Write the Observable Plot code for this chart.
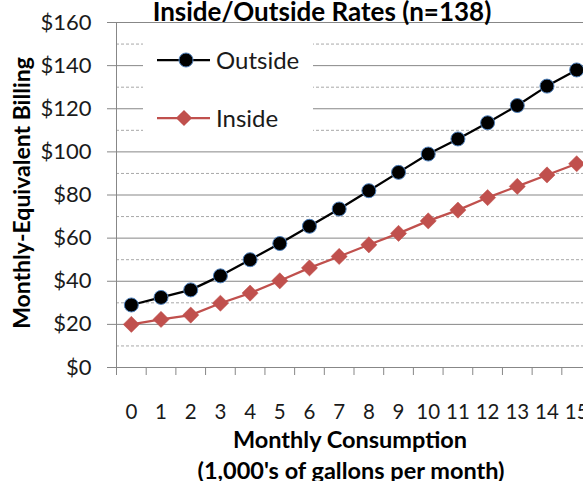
<!DOCTYPE html>
<html><head><meta charset="utf-8">
<script src="https://cdn.jsdelivr.net/npm/d3@7"></script>
<script src="https://cdn.jsdelivr.net/npm/@observablehq/plot@0.6"></script>
<style>
body{margin:0;background:#fff;}
#chart{position:relative;width:583px;height:481px;overflow:hidden;}
</style></head><body><div id="chart"></div>
<script>
const consumption = [0,1,2,3,4,5,6,7,8,9,10,11,12,13,14,15];
const outside = [29,32.5,36,42.5,50,57.5,65.5,73.5,82,90.5,99,106,113.5,121.5,130.5,138];
const inside = [20,22.3,24.3,29.8,34.5,40.2,46.2,51.5,56.9,62.2,68,73,78.8,84,89.3,94.5];
const yTicks = [0,20,40,60,80,100,120,140,160];
const yMinor = [10,30,50,70,90,110,130,150];
const seriesNames = ["Outside","Inside"];
const title = "Inside/Outside Rates (n=138)";
const yTitle = "Monthly-Equivalent Billing";
const xTitle1 = "Monthly Consumption";
const xTitle2 = "(1,000's of gallons per month)";

const font = "Lato, 'Open Sans', sans-serif";
const outColor = "#000000", outEdge = "#4f81bd", inColor = "#c0504d";
const outRows = consumption.map((c,i)=>({c, v: outside[i]}));
const inRows = consumption.map((c,i)=>({c, v: inside[i]}));
const bounds = consumption.map(c=>c-0.5);

const plot = Plot.plot({
  width:583, height:481, marginLeft:116, marginRight:0, marginTop:22, marginBottom:114,
  style:{fontFamily:font, background:"transparent", overflow:"visible", color:"#1a1a1a"},
  x:{type:"linear", domain:[-0.5, 15.23]},
  y:{domain:[0,160]},
  marks:[
    Plot.ruleY(yMinor, {stroke:"#a8a8a8", strokeDasharray:"3,2", strokeWidth:1}),
    Plot.ruleY(yTicks, {stroke:"#878787", strokeWidth:1}),
    Plot.ruleX([bounds[0]], {stroke:"#878787", strokeWidth:1}),
    Plot.axisY({ticks:yTicks, tickSize:9, tickPadding:16, tickFormat:d=>"$"+d, fontSize:22, stroke:"#878787", fill:"#1a1a1a", label:null}),
    Plot.axisX({ticks:bounds, tickSize:8, tickFormat:()=>"", stroke:"#878787", label:null}),
    Plot.axisX({ticks:consumption, tickSize:0, tickPadding:37, fontSize:20.5, fill:"#1a1a1a", tickFormat:d=>String(d), label:null}),
    Plot.line(inRows, {x:"c", y:"v", stroke:inColor, strokeWidth:2.25}),
    Plot.line(outRows, {x:"c", y:"v", stroke:outColor, strokeWidth:2.25}),
    Plot.dot(inRows, {x:"c", y:"v", symbol:"diamond2", r:7.3, fill:inColor, stroke:inColor, strokeWidth:0.5}),
    Plot.dot(outRows, {x:"c", y:"v", r:7, fill:outColor, stroke:outEdge, strokeWidth:1})
  ]
});
document.getElementById("chart").appendChild(plot);

const svg = d3.select(plot);
svg.append("text").attr("x",322).attr("y",21).attr("text-anchor","middle")
  .style("font-family",font).style("font-weight","bold").style("font-size","26px").attr("fill","#000").text(title);
svg.append("text").attr("transform","translate(30,193) rotate(-90)").attr("text-anchor","middle")
  .style("font-family",font).style("font-weight","bold").style("font-size","23px").attr("fill","#000").text(yTitle);
svg.append("text").attr("x",350).attr("y",448).attr("text-anchor","middle")
  .style("font-family",font).style("font-weight","bold").style("font-size","23.5px").attr("fill","#000").text(xTitle1);
svg.append("text").attr("x",351).attr("y",479).attr("text-anchor","middle")
  .style("font-family",font).style("font-weight","bold").style("font-size","23.5px").attr("fill","#000").text(xTitle2);

// legend
const lg = svg.append("g");
lg.append("rect").attr("x",143).attr("y",28).attr("width",170).attr("height",116).attr("fill","#fff");
const rows = [
  {name:seriesNames[0], y:60, color:outColor},
  {name:seriesNames[1], y:118, color:inColor}
];
rows.forEach((r,i)=>{
  lg.append("line").attr("x1",157).attr("x2",210).attr("y1",r.y).attr("y2",r.y).attr("stroke",r.color).attr("stroke-width",2.25);
  if(i===0){
    lg.append("circle").attr("cx",186).attr("cy",r.y).attr("r",7).attr("fill",outColor).attr("stroke",outEdge).attr("stroke-width",1);
  } else {
    lg.append("path").attr("transform",`translate(184,${r.y})`).attr("d",d3.symbol(d3.symbolDiamond2, Math.PI*7.3*7.3)()).attr("fill",inColor);
  }
  lg.append("text").attr("x",216).attr("y",r.y).attr("dy","0.36em").attr("text-anchor","start")
    .style("font-family",font).style("font-size","24px").attr("fill","#1a1a1a").text(r.name);
});
</script></body></html>
